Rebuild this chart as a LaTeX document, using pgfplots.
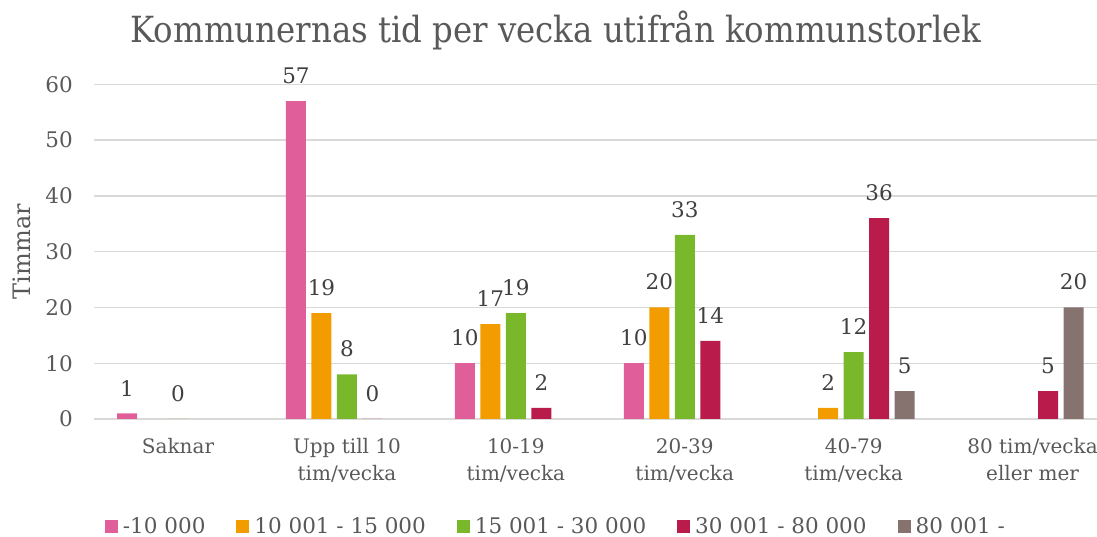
\documentclass[border=0pt]{standalone}
\usepackage{fontspec}
\setmainfont{DejaVu Serif}
\newfontfamily\titlefont{DejaVu Serif Condensed}
\usepackage{pgfplots}
\pgfplotsset{compat=1.18}
\definecolor{cpink}{RGB}{224,94,154}
\definecolor{corange}{RGB}{243,156,0}
\definecolor{cgreen}{RGB}{120,184,42}
\definecolor{ccrimson}{RGB}{185,28,74}
\definecolor{ctaupe}{RGB}{134,115,111}
\definecolor{txtgray}{RGB}{89,89,89}
\definecolor{lblgray}{RGB}{64,64,64}
\definecolor{gridgray}{RGB}{217,217,217}
\begin{document}
\begin{tikzpicture}
\useasboundingbox (0,0) rectangle (1097pt,537pt);
\node[anchor=base, inner sep=0pt, font=\titlefont\fontsize{36}{40}\selectfont, text=txtgray] at (556pt,494pt) {Kommunernas tid per vecka utifrån kommunstorlek};
\begin{axis}[
  at={(93.6pt,118pt)}, anchor=south west,
  scale only axis, width=1003.4pt, height=334.7pt,
  ymin=0, ymax=60, xmin=-0.5, xmax=5.441,
  ybar=5.5pt, bar width=20pt,
  ytick={0,10,20,30,40,50,60},
  xtick={0,1,2,3,4,5},
  xticklabels={Saknar,{Upp till 10\\tim/vecka},{10-19\\tim/vecka},{20-39\\tim/vecka},{40-79\\tim/vecka},{\hspace*{20pt}80 tim/vecka\\\hspace*{20pt}eller mer}},
  /pgf/number format/assume math mode=true,
  ymajorgrids, grid style={draw=gridgray, line width=1.3pt},
  axis line style={draw=none}, major tick length=0pt,
  yticklabel style={font=\fontsize{21.5}{24}\selectfont, color=txtgray, anchor=east, inner sep=0pt, xshift=-20.6pt},
  xticklabel style={font=\fontsize{20}{27}\selectfont, color=txtgray, align=center, anchor=north, inner sep=0pt, yshift=-19pt},
  ylabel={Timmar},
  ylabel style={at={(-0.0714,0.5)}, anchor=center, rotate=0, font=\fontsize{24}{26}\selectfont, color=txtgray},
  nodes near coords,
  nodes near coords style={font=\fontsize{21.5}{24}\selectfont, color=lblgray, anchor=south, inner sep=0pt, yshift=17pt},
  legend columns=5,
  legend style={at={(0.4598,-0.3197)}, anchor=center, draw=none, fill=none, font=\fontsize{21.5}{24}\selectfont, text=txtgray,
    nodes={inner sep=0pt},
    /tikz/every odd column/.append style={column sep=5pt},
    /tikz/every even column/.append style={column sep=31pt}},
  legend image code/.code={\fill[#1] (0pt,-6.5pt) rectangle (13pt,6.5pt);},
]
\addplot[fill=cpink, draw=none] coordinates {(0,1) (1,57) (2,10) (3,10)};
\addplot[fill=corange, draw=none] coordinates {(1,19) (2,17) (3,20) (4,2)};
\addplot[fill=cgreen, draw=none] coordinates {(0,0) (1,8) (2,19) (3,33) (4,12)};
\addplot[fill=ccrimson, draw=none] coordinates {(1,0) (2,2) (3,14) (4,36) (5,5)};
\addplot[fill=ctaupe, draw=none] coordinates {(4,5) (5,20)};
\legend{-10 000, 10 001 - 15 000, 15 001 - 30 000, 30 001 - 80 000, 80 001 -}
\end{axis}
\end{tikzpicture}
\end{document}
